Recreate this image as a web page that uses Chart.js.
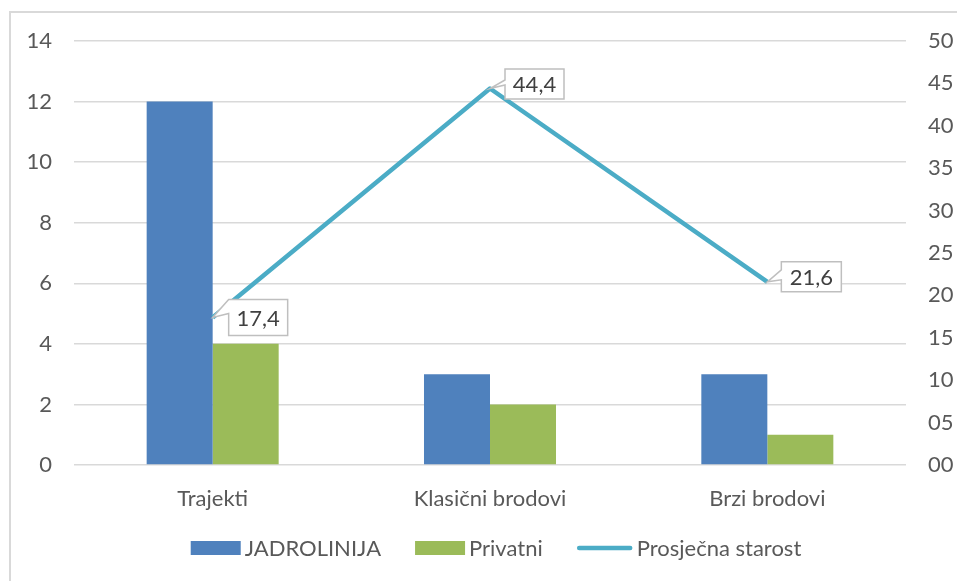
<!DOCTYPE html>
<html>
<head>
<meta charset="utf-8">
<script src="https://cdn.jsdelivr.net/npm/chart.js@4/dist/chart.umd.min.js"></script>
<style>
html,body{margin:0;padding:0;background:#fff;}
#wrap{width:957px;height:581px;position:relative;}
</style>
</head>
<body>
<div id="wrap"><canvas id="c" width="957" height="581"></canvas></div>
<script>
const categories = ['Trajekti', 'Klasični brodovi', 'Brzi brodovi'];
const jadrolinija = [12, 3, 3];
const privatni = [4, 2, 1];
const prosjecnaStarost = [17.4, 44.4, 21.6];
const seriesNames = ['JADROLINIJA', 'Privatni', 'Prosječna starost'];

const FONT = 'Lato, "Open Sans", sans-serif';
const TXT = '#595959';
const GRID = '#d9d9d9';

const borderPlugin = {
  id: 'outerBorder',
  beforeDraw(chart) {
    const ctx = chart.ctx;
    ctx.save();
    ctx.fillStyle = '#fff';
    ctx.fillRect(0, 0, chart.width, chart.height);
    ctx.strokeStyle = GRID;
    ctx.lineWidth = 2;
    ctx.beginPath();
    ctx.moveTo(10, chart.height);
    ctx.lineTo(10, 12);
    ctx.lineTo(chart.width, 12);
    ctx.stroke();
    ctx.restore();
  }
};

const calloutPlugin = {
  id: 'callouts',
  afterDatasetsDraw(chart, args, opts) {
    const meta = chart.getDatasetMeta(opts.datasetIndex);
    const ds = chart.data.datasets[opts.datasetIndex];
    const ctx = chart.ctx;
    ctx.save();
    meta.data.forEach((pt, i) => {
      const o = opts.boxes[i];
      const left = pt.x + o.dx, top = pt.y + o.dy, w = o.w, h = o.h;
      ctx.beginPath();
      ctx.moveTo(left, top);
      ctx.lineTo(left + w, top);
      ctx.lineTo(left + w, top + h);
      ctx.lineTo(left, top + h);
      ctx.lineTo(left, top + o.b);
      ctx.lineTo(pt.x, pt.y);
      ctx.lineTo(left, top + o.a);
      ctx.closePath();
      ctx.fillStyle = '#fff';
      ctx.fill();
      ctx.strokeStyle = '#bfbfbf';
      ctx.lineWidth = 1.5;
      ctx.lineJoin = 'miter';
      ctx.stroke();
      ctx.fillStyle = '#404040';
      ctx.font = '22px ' + FONT;
      ctx.textAlign = 'center';
      ctx.textBaseline = 'middle';
      ctx.fillText(String(ds.data[i]).replace('.', ','), left + w / 2, top + h / 2 + 1);
    });
    ctx.restore();
  }
};

const legendPlugin = {
  id: 'customLegend',
  afterDraw(chart, args, opts) {
    const ctx = chart.ctx;
    ctx.save();
    ctx.font = '22px ' + FONT;
    const items = chart.data.datasets.map(ds => ({
      ds, symW: ds.type === 'line' ? 56 : 50, textW: ctx.measureText(ds.label).width
    }));
    const total = items.reduce((s, it) => s + it.symW + opts.textGap + it.textW, 0) + opts.itemGap * (items.length - 1);
    let x = opts.centerX - total / 2;
    const y = opts.y;
    items.forEach(it => {
      if (it.ds.type === 'line') {
        ctx.strokeStyle = it.ds.borderColor;
        ctx.lineWidth = 4.5;
        ctx.lineCap = 'round';
        ctx.beginPath();
        ctx.moveTo(x + 2.5, y);
        ctx.lineTo(x + it.symW - 2.5, y);
        ctx.stroke();
      } else {
        ctx.fillStyle = it.ds.backgroundColor;
        ctx.fillRect(x, y - 7, it.symW, 14);
      }
      x += it.symW + opts.textGap;
      ctx.fillStyle = TXT;
      ctx.textAlign = 'left';
      ctx.textBaseline = 'middle';
      ctx.fillText(it.ds.label, x, y + 1);
      x += it.textW + opts.itemGap;
    });
    ctx.restore();
  }
};

new Chart(document.getElementById('c'), {
  data: {
    labels: categories,
    datasets: [
      { type: 'bar', label: seriesNames[0], data: jadrolinija, backgroundColor: '#4F81BD', yAxisID: 'y', order: 2,
        categoryPercentage: 0.476, barPercentage: 1.0 },
      { type: 'bar', label: seriesNames[1], data: privatni, backgroundColor: '#9BBB59', yAxisID: 'y', order: 2,
        categoryPercentage: 0.476, barPercentage: 1.0 },
      { type: 'line', label: seriesNames[2], data: prosjecnaStarost, borderColor: '#4BACC6', backgroundColor: '#4BACC6',
        borderWidth: 4.5, pointRadius: 0, tension: 0, yAxisID: 'y1', order: 0, borderJoinStyle: 'round' }
    ]
  },
  options: {
    responsive: false,
    animation: false,
    layout: { padding: { top: 41, left: 0, right: 0, bottom: 53 } },
    scales: {
      x: {
        grid: { display: false },
        border: { display: false },
        ticks: { color: TXT, font: { family: FONT, size: 22 }, padding: 13 },
        afterFit(s) { s.height = 63; }
      },
      y: {
        position: 'left', min: 0, max: 14,
        ticks: { stepSize: 2, color: TXT, font: { family: FONT, size: 22 }, padding: 22 },
        grid: { color: GRID, lineWidth: 1.5, drawTicks: false },
        border: { display: false },
        afterFit(s) { s.width = 74; }
      },
      y1: {
        position: 'right', min: 0, max: 50,
        ticks: { stepSize: 5, color: TXT, font: { family: FONT, size: 22 }, padding: 22,
          callback: v => String(v).padStart(2, '0') },
        grid: { display: false, drawTicks: false },
        border: { display: false },
        afterFit(s) { s.width = 51; }
      }
    },
    plugins: {
      tooltip: { enabled: false },
      legend: { display: false },
      customLegend: { centerX: 496, y: 548, textGap: 4, itemGap: 34 },
      callouts: {
        datasetIndex: 2,
        boxes: [
          { dx: 16, dy: -18, w: 59, h: 36, a: 0, b: 14 },
          { dx: 15, dy: -19.5, w: 59, h: 30, a: 11, b: 16 },
          { dx: 14, dy: -20, w: 60, h: 30, a: 8, b: 18 }
        ]
      }
    }
  },
  plugins: [borderPlugin, calloutPlugin, legendPlugin]
});
</script>
</body>
</html>
